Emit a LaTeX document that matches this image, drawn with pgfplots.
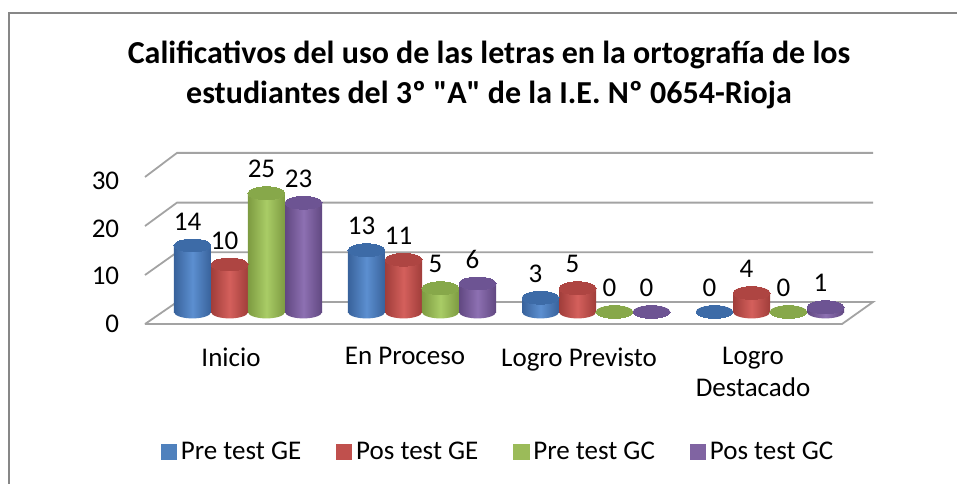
\documentclass[border=0pt]{standalone}
\usepackage{fontspec}
\setmainfont{Carlito}
\usepackage{pgfplots}
\pgfplotsset{compat=1.18}
\usepackage{pgfplotstable}

\definecolor{bMid}{HTML}{5C8FD0}
\definecolor{bDk}{HTML}{38629B}
\definecolor{bTop}{HTML}{3D6BA7}
\definecolor{bLeg}{HTML}{4F81BD}
\definecolor{rMid}{HTML}{D4605C}
\definecolor{rDk}{HTML}{A03D3A}
\definecolor{rTop}{HTML}{AE4542}
\definecolor{rLeg}{HTML}{C0504D}
\definecolor{gMid}{HTML}{A9CC66}
\definecolor{gDk}{HTML}{7D9B41}
\definecolor{gTop}{HTML}{87A84A}
\definecolor{gLeg}{HTML}{9BBB59}
\definecolor{pMid}{HTML}{8D70B2}
\definecolor{pDk}{HTML}{614881}
\definecolor{pTop}{HTML}{6D5493}
\definecolor{pLeg}{HTML}{8064A2}
\definecolor{gridc}{HTML}{A3A3A3}
\definecolor{framec}{HTML}{878787}

% horizontal shadings for the cylinder bottoms (same profile as left/middle/right color)
\pgfdeclarehorizontalshading{shB}{100bp}{color(0bp)=(bDk); color(25bp)=(bDk); color(50bp)=(bMid); color(75bp)=(bDk); color(100bp)=(bDk)}
\pgfdeclarehorizontalshading{shR}{100bp}{color(0bp)=(rDk); color(25bp)=(rDk); color(50bp)=(rMid); color(75bp)=(rDk); color(100bp)=(rDk)}
\pgfdeclarehorizontalshading{shG}{100bp}{color(0bp)=(gDk); color(25bp)=(gDk); color(50bp)=(gMid); color(75bp)=(gDk); color(100bp)=(gDk)}
\pgfdeclarehorizontalshading{shP}{100bp}{color(0bp)=(pDk); color(25bp)=(pDk); color(50bp)=(pMid); color(75bp)=(pDk); color(100bp)=(pDk)}
\newcommand\cylbotmark[2]{%
  \pgfdeclareplotmark{#1}{%
    \pgfpathellipse{\pgfpointorigin}{\pgfqpoint{9.25pt}{0pt}}{\pgfqpoint{0pt}{3.2pt}}%
    \pgfshadepath{#2}{0}\pgfusepath{discard}}}
\cylbotmark{botB}{shB}
\cylbotmark{botR}{shR}
\cylbotmark{botG}{shG}
\cylbotmark{botP}{shP}

\newcommand\sq{\XeTeXglyph\XeTeXcharglyph"22\relax}

\pgfplotstableread{
x preGE posGE preGC posGC
0 14 10 25 23
1 13 11 5 6
2 3 5 0 0
3 0 4 0 1
}\datatable

\pgfplotsset{
  cylbot/.style={forget plot, only marks, mark=#1, y filter/.expression={0}},
  cylbody/.style n args={3}{forget plot, ybar, bar width=18.5pt, bar shift=0pt,
    draw=none, left color=#1, right color=#1, middle color=#2,
    x filter/.expression={\coordindex==#3 ? x : nan}},
  cyltop/.style={forget plot, only marks, mark=*, mark size=9.25pt,
    mark options={yscale=0.346, draw=#1, fill=#1, line width=0pt},
    nodes near coords,
    every node near coord/.append style={font=\fontsize{13.5}{15}\selectfont,
      text=black, anchor=center, yshift=12pt, xshift=-2.5pt}},
  gridl/.style={forget plot, mark=none, draw=gridc, line width=0.9pt},
}

\begin{document}
\begin{tikzpicture}
\draw[framec, line width=1.1pt] (4.5pt,-10pt) -- (4.5pt,235pt) -- (500pt,235pt);

\begin{axis}[
  at={(63.1pt,71.25pt)}, anchor=south west,
  x=87pt, y=2.375pt,
  xmin=-0.7, xmax=3.7, ymin=-6, ymax=36,
  clip=false,
  axis line style={draw=none},
  major tick length=0pt,
  /pgf/number format/assume math mode=true,
  ytick={0,10,20,30},
  yticklabel style={font=\fontsize{13.5}{15}\selectfont, xshift=0pt, yshift=-5.75pt},
  xtick={0,1,2,3},
  xticklabels={Inicio,En Proceso,Logro Previsto,{Logro\\Destacado}},
  xticklabel style={align=center, font=\fontsize{13.5}{16}\selectfont, xshift=-8.5pt, yshift=0pt},
  legend columns=4,
  legend cell align=left,
  legend style={draw=none, fill=none, font=\fontsize{13.5}{15}\selectfont,
    at={(0.4870,-0.5589)}, anchor=center,
    /tikz/every even column/.append style={column sep=15.5pt}},
]
% floor and gridlines
\addplot[gridl, fill=white] coordinates {(-0.592,-2.53) (-0.408,2.105) (3.592,2.105) (3.414,-2.53) (-0.592,-2.53)};
\addplot[gridl] coordinates {(-0.592,7.79) (-0.408,12.57) (3.592,12.57)};
\addplot[gridl] coordinates {(-0.592,18.10) (-0.408,23.03) (3.592,23.03)};
\addplot[gridl] coordinates {(-0.592,28.42) (-0.408,33.50) (3.592,33.50)};

% cylinders: bottom cap, body (one bar per plot so each is shaded alone), top cap
\addplot[cylbot=botB] table[x expr=\thisrow{x}-0.319, y=preGE] {\datatable};
\pgfplotsinvokeforeach{0,1,2,3}{
  \addplot[cylbody={bDk}{bMid}{#1}] table[x expr=\thisrow{x}-0.319, y=preGE] {\datatable};
}
\addplot[cyltop=bTop] table[x expr=\thisrow{x}-0.319, y=preGE] {\datatable};

\addplot[cylbot=botR] table[x expr=\thisrow{x}-0.106, y=posGE] {\datatable};
\pgfplotsinvokeforeach{0,1,2,3}{
  \addplot[cylbody={rDk}{rMid}{#1}] table[x expr=\thisrow{x}-0.106, y=posGE] {\datatable};
}
\addplot[cyltop=rTop] table[x expr=\thisrow{x}-0.106, y=posGE] {\datatable};

\addplot[cylbot=botG] table[x expr=\thisrow{x}+0.106, y=preGC] {\datatable};
\pgfplotsinvokeforeach{0,1,2,3}{
  \addplot[cylbody={gDk}{gMid}{#1}] table[x expr=\thisrow{x}+0.106, y=preGC] {\datatable};
}
\addplot[cyltop=gTop] table[x expr=\thisrow{x}+0.106, y=preGC] {\datatable};

\addplot[cylbot=botP] table[x expr=\thisrow{x}+0.319, y=posGC] {\datatable};
\pgfplotsinvokeforeach{0,1,2,3}{
  \addplot[cylbody={pDk}{pMid}{#1}] table[x expr=\thisrow{x}+0.319, y=posGC] {\datatable};
}
\addplot[cyltop=pTop] table[x expr=\thisrow{x}+0.319, y=posGC] {\datatable};

\addlegendimage{legend image code/.code={\fill[bLeg] (0pt,-3.8pt) rectangle (7.6pt,3.8pt);}}
\addlegendentry{Pre test GE}
\addlegendimage{legend image code/.code={\fill[rLeg] (0pt,-3.8pt) rectangle (7.6pt,3.8pt);}}
\addlegendentry{Pos test GE}
\addlegendimage{legend image code/.code={\fill[gLeg] (0pt,-3.8pt) rectangle (7.6pt,3.8pt);}}
\addlegendentry{Pre test GC}
\addlegendimage{legend image code/.code={\fill[pLeg] (0pt,-3.8pt) rectangle (7.6pt,3.8pt);}}
\addlegendentry{Pos test GC}
\end{axis}

\node[font=\fontsize{16}{20}\selectfont\bfseries, align=center] at (244.5pt,204pt)
  {Calificativos del uso de las letras en la ortografía de los\\estudiantes del 3º \sq A\sq{} de la I.E. Nº 0654-Rioja};

\pgfresetboundingbox
\useasboundingbox (0pt,0pt) rectangle (478.5pt,241.5pt);
\end{tikzpicture}
\end{document}
